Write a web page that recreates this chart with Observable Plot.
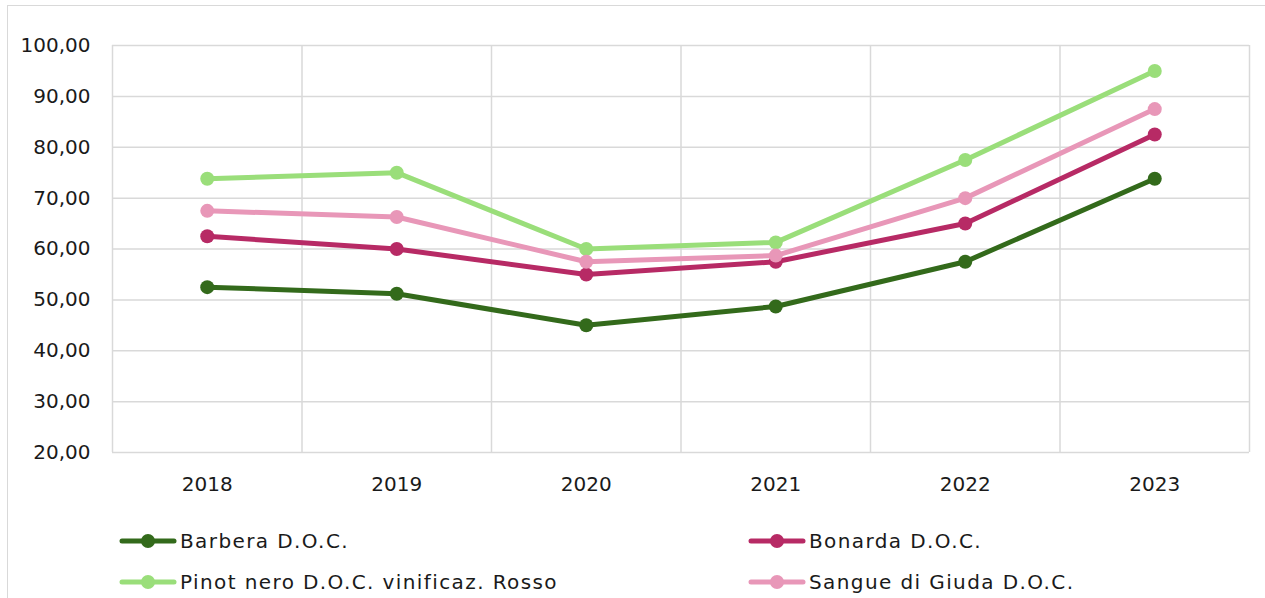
<!DOCTYPE html>
<html>
<head>
<meta charset="utf-8">
<script src="https://cdn.jsdelivr.net/npm/d3@7"></script>
<script src="https://cdn.jsdelivr.net/npm/@observablehq/plot@0.6"></script>
<style>
  html, body { margin: 0; padding: 0; background: #fff; }
  body { width: 1265px; height: 598px; overflow: hidden; position: relative; font-family: "DejaVu Sans", sans-serif; }
  #frame { position: absolute; left: 7px; top: 5px; width: 1270px; height: 600px; border: 1.5px solid #d9d9d9; box-sizing: border-box; }
  #chart { position: absolute; left: 0; top: 0; }
  .legend { position: absolute; font-size: 20px; letter-spacing: 1.4px; color: #1a1a1a; display: flex; align-items: center; white-space: nowrap; }
  .legend svg { margin-right: 3px; }
</style>
</head>
<body>
<div id="frame"></div>
<div id="chart"></div>
<div id="legend"></div>
<script>
const years = [2018, 2019, 2020, 2021, 2022, 2023];
const seriesNames = ["Barbera D.O.C.", "Bonarda D.O.C.", "Pinot nero D.O.C. vinificaz. Rosso", "Sangue di Giuda D.O.C."];
const seriesColors = ["#336a1b", "#b72a65", "#9ade7a", "#e897b8"];
const barbera = [52.5, 51.2, 45.0, 48.7, 57.5, 73.8];
const bonarda = [62.5, 60.0, 55.0, 57.5, 65.0, 82.5];
const pinotNero = [73.8, 75.0, 60.0, 61.3, 77.5, 95.0];
const sangueDiGiuda = [67.5, 66.3, 57.5, 58.7, 70.0, 87.5];
const yTicks = [20, 30, 40, 50, 60, 70, 80, 90, 100];

const seriesValues = [barbera, bonarda, pinotNero, sangueDiGiuda];
const data = [];
seriesNames.forEach((name, i) => {
  years.forEach((yr, j) => data.push({series: name, year: yr, value: seriesValues[i][j]}));
});
const boundaries = d3.range(years[0] - 0.5, years[years.length - 1] + 1, 1);
const fmt = d => d.toFixed(2).replace(".", ",");

const plot = Plot.plot({
  width: 1265,
  height: 500,
  marginTop: 45,
  marginBottom: 48,
  marginLeft: 112,
  marginRight: 16,
  style: {fontFamily: "'DejaVu Sans', sans-serif", fontSize: "20px", color: "#1a1a1a", background: "transparent"},
  x: {type: "linear", domain: [years[0] - 0.5, years[years.length - 1] + 0.5], ticks: years, tickFormat: d => String(d), tickSize: 0, tickPadding: 24, label: null},
  y: {domain: [20, 100], ticks: yTicks, tickFormat: fmt, tickSize: 0, tickPadding: 22, label: null},
  color: {domain: seriesNames, range: seriesColors},
  marks: [
    Plot.ruleY(yTicks, {stroke: "#d9d9d9", strokeWidth: 1.5}),
    Plot.ruleX(boundaries, {stroke: "#d9d9d9", strokeWidth: 1.5}),
    Plot.line(data, {x: "year", y: "value", z: "series", stroke: "series", strokeWidth: 5, curve: "linear"}),
    Plot.dot(data, {x: "year", y: "value", fill: "series", r: 7})
  ]
});
document.getElementById("chart").appendChild(plot);

const legendPos = [[119, 541], [748, 541], [119, 582], [748, 582]];
const leg = document.getElementById("legend");
seriesNames.forEach((name, i) => {
  const d = document.createElement("div");
  d.className = "legend";
  d.style.left = legendPos[i][0] + "px";
  d.style.top = (legendPos[i][1] - 14) + "px";
  d.innerHTML = `<svg width="58" height="28"><line x1="3" x2="55" y1="14" y2="14" stroke="${seriesColors[i]}" stroke-width="5" stroke-linecap="round"/><circle cx="29" cy="14" r="7" fill="${seriesColors[i]}"/></svg><span>${name}</span>`;
  leg.appendChild(d);
});
</script>
</body>
</html>
